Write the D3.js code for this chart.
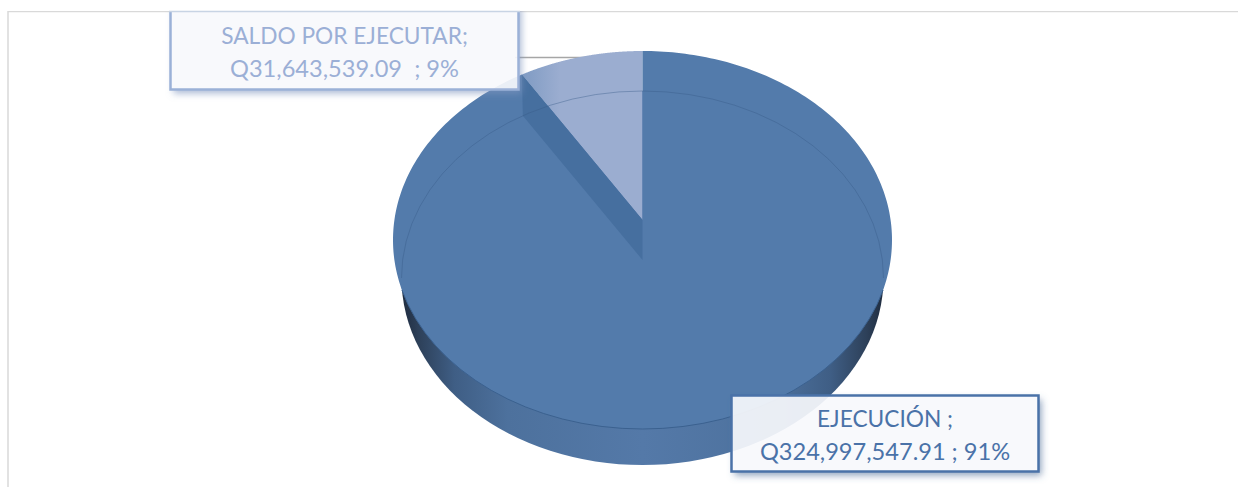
<!DOCTYPE html>
<html>
<head>
<meta charset="utf-8">
<script src="https://cdn.jsdelivr.net/npm/d3@7"></script>
<style>
  html, body { margin: 0; background: #fff; overflow: hidden; }
  text { font-family: Lato, "Open Sans", sans-serif; text-anchor: middle; }
</style>
</head>
<body>
<div id="chart"></div>
<script>
// data
const categories = ["EJECUCIÓN ;", "SALDO POR EJECUTAR;"]
const amounts = [324997547.91, 31643539.09]
const amountSuffix = [" ; ", "  ; "]

const width = 1238
const height = 487

// ellipses of the tilted disc, top face and base
const topFace = { cx: 642.5, cy: 240, rx: 249.5, ry: 189, apexY: 220 }
const baseFace = { cx: 642.5, cy: 278, rx: 241, ry: 187, apexY: 260 }
const tilt = { x: 1.33, y: 1 }

const colors = {
  main: "#537bab",
  slice: "#9badd0",
  wall: "#466f9f",
  edge: "#3b618f",
}

// point on the rim for a pie angle, casting a ray from the apex
function rimPoint(face, angle) {
  const dx = Math.sin(angle) * tilt.x
  const dy = -Math.cos(angle) * tilt.y
  const oy = (face.apexY - face.cy) / face.ry
  const ux = dx / face.rx
  const uy = dy / face.ry
  const a = ux * ux + uy * uy
  const b = 2 * oy * uy
  const c = oy * oy - 1
  const t = (-b + Math.sqrt(b * b - 4 * a * c)) / (2 * a)
  return [face.cx + dx * t, face.apexY + dy * t]
}

function wedgePoints(face, start, end) {
  const angle = d3.scaleLinear().domain([0, 300]).range([start, end])
  return [[face.cx, face.apexY]].concat(d3.range(301).map((i) => rimPoint(face, angle(i))))
}

const pie = d3.pie().sort(null)
const arcs = pie(amounts)
const total = d3.sum(amounts)
const line = d3.line()

const svg = d3.select("#chart").append("svg").attr("width", width).attr("height", height).style("display", "block")
const defs = svg.append("defs")

// side of the disc
const sideGradient = defs
  .append("linearGradient")
  .attr("id", "side")
  .attr("gradientUnits", "userSpaceOnUse")
  .attr("x1", baseFace.cx - baseFace.rx)
  .attr("x2", baseFace.cx + baseFace.rx)
  .attr("y1", 0)
  .attr("y2", 0)
sideGradient
  .selectAll("stop")
  .data([
    [0, "#1f2c3f"],
    [0.035, "#2d4059"],
    [0.11, "#3f5e85"],
    [0.22, "#4d719d"],
    [0.5, "#5479a8"],
    [0.78, "#4d719d"],
    [0.89, "#3f5e85"],
    [0.965, "#2d4059"],
    [1, "#1f2c3f"],
  ])
  .enter()
  .append("stop")
  .attr("offset", (d) => d[0])
  .attr("stop-color", (d) => d[1])

const sliceGradient = defs
  .append("linearGradient")
  .attr("id", "sliceFill")
  .attr("gradientUnits", "userSpaceOnUse")
  .attr("x1", 522)
  .attr("x2", 560)
  .attr("y1", 0)
  .attr("y2", 0)
sliceGradient.append("stop").attr("offset", 0).attr("stop-color", "#7f9bc3")
sliceGradient.append("stop").attr("offset", 1).attr("stop-color", colors.slice)

// draws only the part of the shadow outside the box, the pie stays visible through the box
function addShadow(id, color, opacity) {
  const filter = defs
    .append("filter")
    .attr("id", id)
    .attr("x", "-10%")
    .attr("y", "-20%")
    .attr("width", "120%")
    .attr("height", "150%")
  filter.append("feGaussianBlur").attr("in", "SourceAlpha").attr("stdDeviation", 3.5).attr("result", "blur")
  filter.append("feOffset").attr("in", "blur").attr("dx", 3).attr("dy", 4).attr("result", "moved")
  filter.append("feFlood").attr("flood-color", color).attr("flood-opacity", opacity).attr("result", "tint")
  filter.append("feComposite").attr("in", "tint").attr("in2", "moved").attr("operator", "in").attr("result", "shadow")
  filter.append("feComposite").attr("in", "shadow").attr("in2", "SourceAlpha").attr("operator", "out")
}
addShadow("shadowMain", "#4a6a96", 0.6)
addShadow("shadowSlice", "#7f95bf", 0.65)

// chart frame, only top and left are in the crop
svg
  .append("path")
  .attr("d", `M8,${height}V11.5H${width}`)
  .attr("fill", "none")
  .attr("stroke", "#d9d9d9")
  .attr("stroke-width", 1.5)

// leader line of the small slice
svg
  .append("line")
  .attr("x1", 515)
  .attr("x2", 610)
  .attr("y1", 57.5)
  .attr("y2", 57.5)
  .attr("stroke", "#a6a6a6")
  .attr("stroke-width", 1.5)

// side and base
svg
  .append("ellipse")
  .attr("cx", baseFace.cx)
  .attr("cy", baseFace.cy)
  .attr("rx", baseFace.rx)
  .attr("ry", baseFace.ry)
  .attr("fill", "url(#side)")

// small slice wall
const sliceArc = arcs[1]
const rimA = rimPoint(topFace, sliceArc.startAngle)
const rimB = rimPoint(baseFace, sliceArc.startAngle)
svg
  .append("path")
  .attr("d", line(wedgePoints(topFace, sliceArc.startAngle, sliceArc.endAngle)) + "Z")
  .attr("fill", "url(#sliceFill)")

// big slice
svg
  .append("path")
  .attr("d", line(wedgePoints(topFace, arcs[0].startAngle, arcs[0].endAngle)) + "Z")
  .attr("fill", colors.main)

svg
  .append("path")
  .attr("d", line([[topFace.cx, topFace.apexY], rimA, rimB, [baseFace.cx, baseFace.apexY]]) + "Z")
  .attr("fill", colors.wall)

// base rim seen through the face
svg
  .append("path")
  .attr("d", `M${baseFace.cx - baseFace.rx},${baseFace.cy}A${baseFace.rx},${baseFace.ry} 0 0 1 ${baseFace.cx + baseFace.rx},${baseFace.cy}`)
  .attr("fill", "none")
  .attr("stroke", "#365a88")
  .attr("stroke-opacity", 0.4)
  .attr("stroke-width", 1)

// front edge of the top face
const edgeDy = 50 / topFace.ry
const edgeDx = topFace.rx * Math.sqrt(1 - edgeDy * edgeDy)
svg
  .append("path")
  .attr("d", `M${topFace.cx - edgeDx},${topFace.cy + 50}A${topFace.rx},${topFace.ry} 0 0 0 ${topFace.cx + edgeDx},${topFace.cy + 50}`)
  .attr("fill", "none")
  .attr("stroke", colors.edge)
  .attr("stroke-width", 1)

// labels
const labelBoxes = [
  { x: 731.5, y: 395.5, w: 307, h: 76, color: "#4a72a8", text: "#4a72a8", filter: "shadowMain", base1: 427, base2: 460 },
  { x: 170.5, y: 4, w: 348, h: 85.5, color: "#9bb1d7", text: "#9bafd6", filter: "shadowSlice", base1: 44, base2: 77 },
]

const labels = svg.selectAll("g.label").data(arcs).enter().append("g").attr("class", "label")
labels
  .append("rect")
  .attr("x", (d, i) => labelBoxes[i].x)
  .attr("y", (d, i) => labelBoxes[i].y)
  .attr("width", (d, i) => labelBoxes[i].w)
  .attr("height", (d, i) => labelBoxes[i].h)
  .attr("fill", "#000")
  .attr("filter", (d, i) => `url(#${labelBoxes[i].filter})`)
labels
  .append("rect")
  .attr("x", (d, i) => labelBoxes[i].x)
  .attr("y", (d, i) => labelBoxes[i].y)
  .attr("width", (d, i) => labelBoxes[i].w)
  .attr("height", (d, i) => labelBoxes[i].h)
  .attr("fill", "#f7f9fc")
  .attr("fill-opacity", 0.92)
  .attr("stroke", (d, i) => labelBoxes[i].color)
  .attr("stroke-width", 2.5)
labels
  .append("text")
  .attr("x", (d, i) => labelBoxes[i].x + labelBoxes[i].w / 2)
  .attr("y", (d, i) => labelBoxes[i].base1)
  .attr("font-size", 22.7)
  .attr("fill", (d, i) => labelBoxes[i].text)
  .text((d, i) => categories[i])
labels
  .append("text")
  .attr("x", (d, i) => labelBoxes[i].x + labelBoxes[i].w / 2)
  .attr("y", (d, i) => labelBoxes[i].base2)
  .attr("font-size", 23.6)
  .attr("fill", (d, i) => labelBoxes[i].text)
  .style("white-space", "pre")
  .text((d, i) => "Q" + d3.format(",.2f")(d.value) + amountSuffix[i] + d3.format(".0%")(d.value / total))

// the small label runs past the top of the chart area and is cut there
svg.append("rect").attr("x", 0).attr("y", 0).attr("width", width).attr("height", 11).attr("fill", "#fff")
svg
  .append("line")
  .attr("x1", 169)
  .attr("x2", 520)
  .attr("y1", 11.5)
  .attr("y2", 11.5)
  .attr("stroke", "#c8d4e4")
  .attr("stroke-width", 1.5)
</script>
</body>
</html>
